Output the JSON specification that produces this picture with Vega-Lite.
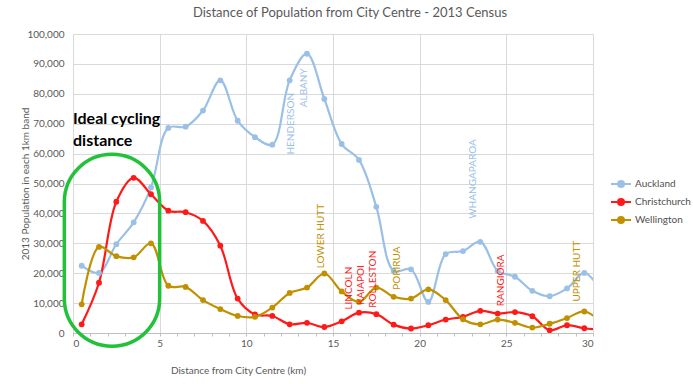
{
  "$schema": "https://vega.github.io/schema/vega-lite/v6.json",
  "width": 520,
  "height": 299,
  "autosize": {"type": "none"},
  "padding": {"left": 73, "top": 34, "right": 100, "bottom": 51},
  "background": "white",
  "title": {
    "text": "Distance of Population from City Centre - 2013 Census",
    "font": "Lato",
    "fontSize": 13,
    "fontWeight": "normal",
    "color": "#595959",
    "anchor": "middle",
    "dx": 17,
    "offset": 9
  },
  "config": {
    "view": {"stroke": null},
    "font": "Lato"
  },
  "datasets": {
    "series": [
      {"d": 0.5, "s": "Auckland", "v": 22500}, {"d": 1.5, "s": "Auckland", "v": 20100}, {"d": 2.5, "s": "Auckland", "v": 29700}, {"d": 3.5, "s": "Auckland", "v": 37000}, {"d": 4.5, "s": "Auckland", "v": 48700}, {"d": 5.5, "s": "Auckland", "v": 68600}, {"d": 6.5, "s": "Auckland", "v": 69000}, {"d": 7.5, "s": "Auckland", "v": 74400}, {"d": 8.5, "s": "Auckland", "v": 84500}, {"d": 9.5, "s": "Auckland", "v": 71000}, {"d": 10.5, "s": "Auckland", "v": 65500}, {"d": 11.5, "s": "Auckland", "v": 63000}, {"d": 12.5, "s": "Auckland", "v": 84500}, {"d": 13.5, "s": "Auckland", "v": 93400}, {"d": 14.5, "s": "Auckland", "v": 78300}, {"d": 15.5, "s": "Auckland", "v": 63200}, {"d": 16.5, "s": "Auckland", "v": 57900}, {"d": 17.5, "s": "Auckland", "v": 42200}, {"d": 18.5, "s": "Auckland", "v": 20800}, {"d": 19.5, "s": "Auckland", "v": 21300}, {"d": 20.5, "s": "Auckland", "v": 10400}, {"d": 21.5, "s": "Auckland", "v": 26400}, {"d": 22.5, "s": "Auckland", "v": 27400}, {"d": 23.5, "s": "Auckland", "v": 30500}, {"d": 24.5, "s": "Auckland", "v": 20800}, {"d": 25.5, "s": "Auckland", "v": 18800}, {"d": 26.5, "s": "Auckland", "v": 14100}, {"d": 27.5, "s": "Auckland", "v": 12300}, {"d": 28.5, "s": "Auckland", "v": 14900}, {"d": 29.5, "s": "Auckland", "v": 20100}, {"d": 30.5, "s": "Auckland", "v": 14000},
      {"d": 0.5, "s": "Christchurch", "v": 2900}, {"d": 1.5, "s": "Christchurch", "v": 16800}, {"d": 2.5, "s": "Christchurch", "v": 43900}, {"d": 3.5, "s": "Christchurch", "v": 51900}, {"d": 4.5, "s": "Christchurch", "v": 46400}, {"d": 5.5, "s": "Christchurch", "v": 40900}, {"d": 6.5, "s": "Christchurch", "v": 40400}, {"d": 7.5, "s": "Christchurch", "v": 37500}, {"d": 8.5, "s": "Christchurch", "v": 29200}, {"d": 9.5, "s": "Christchurch", "v": 11500}, {"d": 10.5, "s": "Christchurch", "v": 6200}, {"d": 11.5, "s": "Christchurch", "v": 5700}, {"d": 12.5, "s": "Christchurch", "v": 2900}, {"d": 13.5, "s": "Christchurch", "v": 3400}, {"d": 14.5, "s": "Christchurch", "v": 2000}, {"d": 15.5, "s": "Christchurch", "v": 3900}, {"d": 16.5, "s": "Christchurch", "v": 6800}, {"d": 17.5, "s": "Christchurch", "v": 6300}, {"d": 18.5, "s": "Christchurch", "v": 2800}, {"d": 19.5, "s": "Christchurch", "v": 1500}, {"d": 20.5, "s": "Christchurch", "v": 2600}, {"d": 21.5, "s": "Christchurch", "v": 4500}, {"d": 22.5, "s": "Christchurch", "v": 5400}, {"d": 23.5, "s": "Christchurch", "v": 7400}, {"d": 24.5, "s": "Christchurch", "v": 6500}, {"d": 25.5, "s": "Christchurch", "v": 7000}, {"d": 26.5, "s": "Christchurch", "v": 5600}, {"d": 27.5, "s": "Christchurch", "v": 900}, {"d": 28.5, "s": "Christchurch", "v": 2600}, {"d": 29.5, "s": "Christchurch", "v": 1600}, {"d": 30.5, "s": "Christchurch", "v": 1000},
      {"d": 0.5, "s": "Wellington", "v": 9600}, {"d": 1.5, "s": "Wellington", "v": 28800}, {"d": 2.5, "s": "Wellington", "v": 25700}, {"d": 3.5, "s": "Wellington", "v": 25300}, {"d": 4.5, "s": "Wellington", "v": 30000}, {"d": 5.5, "s": "Wellington", "v": 15800}, {"d": 6.5, "s": "Wellington", "v": 15400}, {"d": 7.5, "s": "Wellington", "v": 11000}, {"d": 8.5, "s": "Wellington", "v": 8000}, {"d": 9.5, "s": "Wellington", "v": 5700}, {"d": 10.5, "s": "Wellington", "v": 5400}, {"d": 11.5, "s": "Wellington", "v": 8500}, {"d": 12.5, "s": "Wellington", "v": 13400}, {"d": 13.5, "s": "Wellington", "v": 15200}, {"d": 14.5, "s": "Wellington", "v": 19900}, {"d": 15.5, "s": "Wellington", "v": 13900}, {"d": 16.5, "s": "Wellington", "v": 10400}, {"d": 17.5, "s": "Wellington", "v": 15200}, {"d": 18.5, "s": "Wellington", "v": 12100}, {"d": 19.5, "s": "Wellington", "v": 11500}, {"d": 20.5, "s": "Wellington", "v": 14600}, {"d": 21.5, "s": "Wellington", "v": 11000}, {"d": 22.5, "s": "Wellington", "v": 4600}, {"d": 23.5, "s": "Wellington", "v": 2900}, {"d": 24.5, "s": "Wellington", "v": 4500}, {"d": 25.5, "s": "Wellington", "v": 3400}, {"d": 26.5, "s": "Wellington", "v": 1800}, {"d": 27.5, "s": "Wellington", "v": 3100}, {"d": 28.5, "s": "Wellington", "v": 5000}, {"d": 29.5, "s": "Wellington", "v": 7200}, {"d": 30.5, "s": "Wellington", "v": 3500}
    ],
    "places": [
      {"label": "HENDERSON", "s": "Auckland", "d": 12.6, "v": 70000},
      {"label": "ALBANY", "s": "Auckland", "d": 13.3, "v": 82000},
      {"label": "WHANGAPAROA", "s": "Auckland", "d": 23.1, "v": 51500},
      {"label": "LOWER HUTT", "s": "Wellington", "d": 14.3, "v": 32400},
      {"label": "LINCOLN", "s": "Christchurch", "d": 15.9, "v": 15000},
      {"label": "KAIAPOI", "s": "Christchurch", "d": 16.6, "v": 16000},
      {"label": "ROLLESTON", "s": "Christchurch", "d": 17.3, "v": 18000},
      {"label": "PORIRUA", "s": "Wellington", "d": 18.7, "v": 21700},
      {"label": "RANGIORA", "s": "Christchurch", "d": 24.7, "v": 17600},
      {"label": "UPPER HUTT", "s": "Wellington", "d": 29.05, "v": 20700}
    ],
    "zone": [
      {"d": -0.5, "d2": 5.0, "v": 59800, "v2": -4400}
    ],
    "note": [
      {"d": 0, "v": 71500, "note": "Ideal cycling\ndistance"}
    ]
  },
  "encoding": {
    "x": {
      "field": "d", "type": "quantitative",
      "scale": {"domain": [0, 30], "nice": false, "zero": false},
      "axis": {
        "title": "Distance from City Centre (km)",
        "titleFont": "Lato", "titleFontSize": 10, "titleFontWeight": "normal", "titleColor": "#595959",
        "titleX": 165, "titleY": 37, "titleBaseline": "middle",
        "values": [0,1,2,3,4,5,6,7,8,9,10,11,12,13,14,15,16,17,18,19,20,21,22,23,24,25,26,27,28,29,30],
        "labelExpr": "datum.value % 5 === 0 ? datum.label : ''",
        "labelFont": "Lato", "labelFontSize": 10, "labelColor": "#595959", "labelPadding": 2,
        "tickSize": 3, "tickColor": "#bfbfbf", "domainColor": "#bfbfbf",
        "gridColor": "#d9d9d9",
        "gridOpacity": {"condition": {"test": "datum.value % 5 === 0", "value": 1}, "value": 0}
      }
    },
    "y": {
      "field": "v", "type": "quantitative",
      "scale": {"domain": [0, 100000], "nice": false},
      "axis": {
        "title": "2013 Population in each 1km band",
        "titleFont": "Lato", "titleFontSize": 10, "titleFontWeight": "normal", "titleColor": "#595959",
        "titleX": -43,
        "values": [0,10000,20000,30000,40000,50000,60000,70000,80000,90000,100000],
        "format": ",d",
        "labelFont": "Lato", "labelFontSize": 10, "labelColor": "#595959", "labelPadding": 9,
        "ticks": false, "domain": false, "gridColor": "#d9d9d9"
      }
    }
  },
  "layer": [
    {
      "data": {"name": "series"},
      "mark": {"type": "line", "interpolate": "catmull-rom", "strokeWidth": 2.2, "clip": true, "point": {"filled": true, "size": 34, "clip": true}},
      "encoding": {
        "color": {
          "field": "s", "type": "nominal",
          "scale": {"domain": ["Auckland", "Christchurch", "Wellington"], "range": ["#9bc0e6", "#ff1a1a", "#c09000"]},
          "legend": {
            "title": null, "orient": "none", "legendX": 537, "legendY": 139,
            "labelFont": "Lato", "labelFontSize": 10, "labelColor": "#505050",
            "symbolType": "M-1,0L1,0M-0.3,0a0.3,0.3 0 1,0 0.6,0a0.3,0.3 0 1,0 -0.6,0",
            "symbolSize": 400, "symbolStrokeWidth": 2, "rowPadding": -2, "labelOffset": 3
          }
        },
        "detail": {"field": "s"}
      }
    },
    {
      "data": {"name": "places"},
      "mark": {"type": "text", "angle": 270, "align": "center", "baseline": "middle", "fontSize": 10, "font": "Lato"},
      "encoding": {
        "text": {"field": "label"},
        "color": {"field": "s", "type": "nominal", "legend": null}
      }
    },
    {
      "data": {"name": "zone"},
      "mark": {"type": "rect", "fill": null, "fillOpacity": 0, "stroke": "#22c13a", "strokeWidth": 3.5, "cornerRadius": 48, "clip": false},
      "encoding": {
        "x2": {"field": "d2"},
        "y2": {"field": "v2"}
      }
    },
    {
      "data": {"name": "note"},
      "mark": {"type": "text", "align": "left", "baseline": "middle", "fontSize": 16, "fontWeight": "bold", "font": "Lato", "lineBreak": "\n", "lineHeight": 22, "color": "#000000"},
      "encoding": {
        "text": {"field": "note"}
      }
    }
  ]
}
